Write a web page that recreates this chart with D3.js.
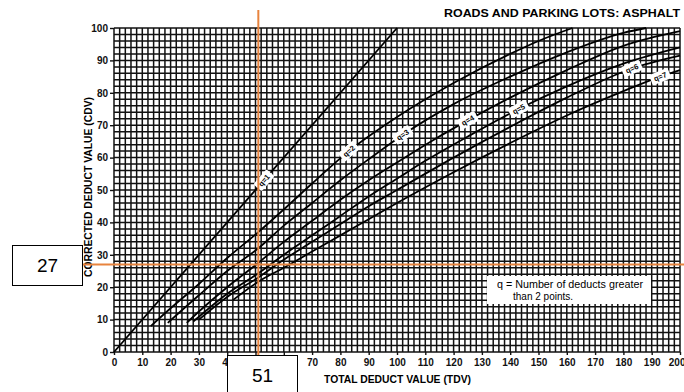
<!DOCTYPE html>
<html>
<head>
<meta charset="utf-8">
<script src="https://cdn.jsdelivr.net/npm/d3@7"></script>
<style>
  body { margin: 0; background: #fff; }
  svg { display: block; }
  text { font-family: "Liberation Sans", Arial, sans-serif; }
</style>
</head>
<body>
<div id="chart"></div>
<script>
// ----------------------------------------------------------------
// Data
// ----------------------------------------------------------------

const tdvTicks = [0, 10, 20, 30, 40, 50, 60, 70, 80, 90, 100, 110, 120, 130, 140, 150, 160, 170, 180, 190, 200];
const cdvTicks = [0, 10, 20, 30, 40, 50, 60, 70, 80, 90, 100];

// corrected deduct curves, [TDV, CDV]
const q1 = [[0, 0], [100, 100]];
const q2 = [[13, 8], [20, 13.5], [30, 21], [40, 29], [51, 37], [60, 44], [70, 52], [83, 62], [100, 72.5], [120, 83], [140, 92], [150, 96], [162, 100]];
const q3 = [[19, 9], [30, 17.5], [40, 25], [51, 32], [60, 39], [70, 46], [80, 53], [90, 59.5], [102, 67], [120, 76.5], [140, 85], [160, 92.5], [180, 98.5], [188, 100]];
const q4 = [[25.7, 9], [30, 12.5], [40, 20], [51, 27.5], [60, 34], [70, 40.5], [80, 47], [90, 53], [100, 58.5], [112, 65], [125, 71.5], [140, 78.5], [160, 87], [180, 94.5], [200, 99]];
const q5 = [[28, 9.4], [40, 18], [51, 24.3], [60, 30], [70, 36], [80, 42], [90, 48], [100, 53.5], [110, 59], [125, 66.5], [143, 75], [160, 82], [180, 89], [200, 94]];
const q6 = [[30, 10], [40, 17], [51, 23], [60, 28.5], [70, 34], [80, 39.5], [90, 45], [100, 50], [120, 60], [140, 69.5], [160, 78.5], [183, 87.5], [200, 91.5]];
const q7 = [[42, 16], [51, 21.7], [60, 26], [70, 31], [80, 36], [90, 41], [100, 46], [120, 55.5], [140, 64.5], [160, 73], [180, 80.5], [193, 85], [200, 87]];

const curveNames = ["q=1", "q=2", "q=3", "q=4", "q=5", "q=6", "q=7"];
const curveData = [q1, q2, q3, q4, q5, q6, q7];
// TDV where each label sits on its curve
const labelTdv = [53, 83, 102, 125, 143, 183, 193];

const readTdv = 51;
const readCdv = 27;

// ----------------------------------------------------------------
// Chart
// ----------------------------------------------------------------

const width = 684, height = 392;
const margin = { left: 114, right: 4, top: 28, bottom: 40 };

const svg = d3.select("#chart").append("svg")
  .attr("width", width)
  .attr("height", height);

const x = d3.scaleLinear().domain([0, 200]).range([margin.left, width - margin.right]);
const y = d3.scaleLinear().domain([0, 100]).range([height - margin.bottom, margin.top]);

// grid, every 2 units
const grid = svg.append("g").attr("stroke", "#111").attr("stroke-width", 1.5);
grid.selectAll("line.v").data(d3.range(0, 201, 2)).join("line")
  .attr("x1", d => x(d)).attr("x2", d => x(d))
  .attr("y1", y(0)).attr("y2", y(100));
grid.selectAll("line.h").data(d3.range(0, 101, 2)).join("line")
  .attr("y1", d => y(d)).attr("y2", d => y(d))
  .attr("x1", x(0)).attr("x2", x(200));

// axes
const xAxis = svg.append("g")
  .attr("transform", `translate(0,${y(0)})`)
  .call(d3.axisBottom(x).tickValues(tdvTicks).tickSize(3).tickPadding(4));
const yAxis = svg.append("g")
  .attr("transform", `translate(${x(0)},0)`)
  .call(d3.axisLeft(y).tickValues(cdvTicks).tickSize(4).tickPadding(2));
[xAxis, yAxis].forEach(a => {
  a.select(".domain").remove();
  a.selectAll("line").attr("stroke", "#111").attr("stroke-width", 1.4);
  a.selectAll("text").attr("font-size", 10).attr("font-weight", "bold").attr("fill", "#111");
});
xAxis.selectAll("text").filter(d => d === 200).attr("text-anchor", "end").attr("dx", 5);

// curves
const line = d3.line().x(d => x(d[0])).y(d => y(d[1])).curve(d3.curveMonotoneX);
svg.append("g").selectAll("path").data(curveData).join("path")
  .attr("d", line)
  .attr("fill", "none")
  .attr("stroke", "#000")
  .attr("stroke-width", 1.8);

// curve labels
function cdvAt(pts, t) {
  for (let i = 1; i < pts.length; i++) {
    if (t <= pts[i][0]) {
      const f = (t - pts[i - 1][0]) / (pts[i][0] - pts[i - 1][0]);
      return [pts[i - 1][1] + f * (pts[i][1] - pts[i - 1][1]), pts[i - 1], pts[i]];
    }
  }
  const n = pts.length;
  return [pts[n - 1][1], pts[n - 2], pts[n - 1]];
}
curveNames.forEach((name, i) => {
  const [v, a, b] = cdvAt(curveData[i], labelTdv[i]);
  const ang = Math.atan2(y(b[1]) - y(a[1]), x(b[0]) - x(a[0])) * 180 / Math.PI;
  const g = svg.append("g")
    .attr("transform", `translate(${x(labelTdv[i])},${y(v)}) rotate(${ang})`);
  g.append("rect").attr("x", -10).attr("y", -5.5).attr("width", 20).attr("height", 11)
    .attr("rx", 2).attr("fill", "#fff");
  g.append("text").attr("text-anchor", "middle").attr("dy", "0.35em")
    .attr("font-size", 7.5).attr("font-weight", "bold").text(name);
});

// title and axis titles
svg.append("text").attr("x", 680).attr("y", 17).attr("text-anchor", "end")
  .attr("font-size", 11.5).attr("font-weight", "bold")
  .attr("textLength", 236).attr("lengthAdjust", "spacingAndGlyphs")
  .text("ROADS AND PARKING LOTS:  ASPHALT");
svg.append("text").attr("x", 324).attr("y", 383)
  .attr("font-size", 10.5).attr("font-weight", "bold")
  .attr("textLength", 147).attr("lengthAdjust", "spacingAndGlyphs")
  .text("TOTAL DEDUCT VALUE (TDV)");
svg.append("text").attr("transform", "translate(92,187) rotate(-90)")
  .attr("text-anchor", "middle")
  .attr("font-size", 10.5).attr("font-weight", "bold")
  .attr("textLength", 180).attr("lengthAdjust", "spacingAndGlyphs")
  .text("CORRECTED DEDUCT VALUE (CDV)");

// legend note
svg.append("rect").attr("x", 487).attr("y", 276).attr("width", 164).attr("height", 28).attr("fill", "#fff");
svg.append("text").attr("x", 497).attr("y", 288).attr("font-size", 10)
  .attr("textLength", 146).attr("lengthAdjust", "spacingAndGlyphs")
  .text("q = Number of deducts greater");
svg.append("text").attr("x", 513).attr("y", 300).attr("font-size", 10).text("than 2 points.");

// reading lines
const orange = "#e8843e";
svg.append("line").attr("x1", x(readTdv)).attr("x2", x(readTdv)).attr("y1", 10).attr("y2", height)
  .attr("stroke", orange).attr("stroke-width", 2);
svg.append("line").attr("x1", 82).attr("x2", width).attr("y1", y(readCdv)).attr("y2", y(readCdv))
  .attr("stroke", orange).attr("stroke-width", 2);

// value boxes
function valueBox(bx, by, label) {
  svg.append("rect").attr("x", bx).attr("y", by).attr("width", 70).attr("height", 40)
    .attr("fill", "#fff").attr("stroke", "#000").attr("stroke-width", 1);
  svg.append("text").attr("x", bx + 35).attr("y", by + 26).attr("text-anchor", "middle")
    .attr("font-family", "'Liberation Serif', 'Times New Roman', serif")
    .attr("font-size", 19).text(label);
}
valueBox(12.5, 245.5, String(readCdv));
valueBox(227.5, 355.5, String(readTdv));
</script>
</body>
</html>
